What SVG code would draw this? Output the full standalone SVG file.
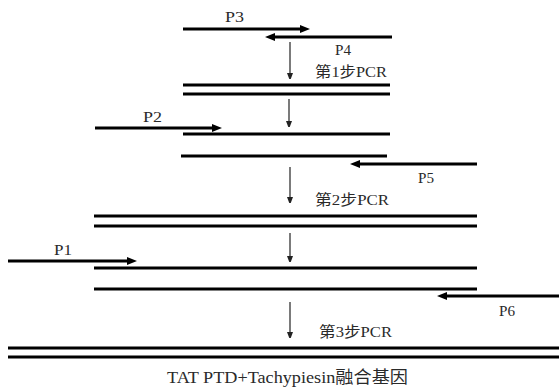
<svg xmlns="http://www.w3.org/2000/svg" width="559" height="387" viewBox="0 0 559 387">
<defs>
<style>
.strand{stroke:#000;stroke-width:3;fill:none}
.primer{stroke:#000;stroke-width:3;fill:none;marker-end:url(#ph)}
.step{stroke:#222;stroke-width:1.2;fill:none;marker-end:url(#sh)}
.lbl{font-size:15px;fill:#2a2a2a}
.cap{font-size:17px;fill:#2a2a2a}
</style>
<marker id="ph" viewBox="0 0 10 8" markerWidth="10" markerHeight="8" refX="0" refY="4" orient="auto" markerUnits="userSpaceOnUse">
<path d="M0,0 L10,4 L0,8 z" fill="#000"/>
</marker>
<marker id="sh" viewBox="0 0 6 8" markerWidth="6" markerHeight="8" refX="0" refY="3" orient="auto" markerUnits="userSpaceOnUse">
<path d="M0,0 L8,3 L0,6 z" fill="#222"/>
</marker>
</defs>
<rect width="559" height="387" fill="#fff"/>
<g id="strands">
<line class="strand" x1="183" y1="85" x2="390" y2="85"/>
<line class="strand" x1="183" y1="94" x2="390" y2="94"/>
<line class="strand" x1="183" y1="134" x2="390" y2="134"/>
<line class="strand" x1="181" y1="156" x2="387" y2="156"/>
<line class="strand" x1="94" y1="216" x2="477" y2="216"/>
<line class="strand" x1="94" y1="226" x2="477" y2="226"/>
<line class="strand" x1="94" y1="268" x2="477" y2="268"/>
<line class="strand" x1="94" y1="289" x2="477" y2="289"/>
<line class="strand" x1="8" y1="348" x2="559" y2="348"/>
<line class="strand" x1="8" y1="357" x2="559" y2="357"/>
</g>
<g id="connectors">
<line class="primer" x1="183" y1="29" x2="300" y2="29"/>
<line class="primer" x1="392" y1="37" x2="275" y2="37"/>
<line class="primer" x1="95" y1="128" x2="212" y2="128"/>
<line class="primer" x1="477" y1="164" x2="360" y2="164"/>
<line class="primer" x1="8" y1="261" x2="127" y2="261"/>
<line class="primer" x1="559" y1="296" x2="447" y2="296"/>
<line class="step" x1="290" y1="42" x2="290" y2="73"/>
<line class="step" x1="289" y1="99" x2="289" y2="121"/>
<line class="step" x1="290" y1="167" x2="290" y2="197"/>
<line class="step" x1="290" y1="233" x2="290" y2="256"/>
<line class="step" x1="290" y1="302" x2="290" y2="332"/>
</g>
<g id="labels" font-family="'Liberation Serif', 'DejaVu Serif', 'Noto Sans CJK SC', serif">
<text class="lbl" x="225" y="22" textLength="19" lengthAdjust="spacingAndGlyphs">P3</text>
<text class="lbl" x="335" y="55" textLength="16" lengthAdjust="spacingAndGlyphs">P4</text>
<text class="lbl" x="315" y="77" textLength="72" lengthAdjust="spacingAndGlyphs">第1步PCR</text>
<text class="lbl" x="143" y="122" textLength="19" lengthAdjust="spacingAndGlyphs">P2</text>
<text class="lbl" x="418" y="183" textLength="16" lengthAdjust="spacingAndGlyphs">P5</text>
<text class="lbl" x="315" y="205" textLength="74" lengthAdjust="spacingAndGlyphs">第2步PCR</text>
<text class="lbl" x="54" y="255" textLength="18" lengthAdjust="spacingAndGlyphs">P1</text>
<text class="lbl" x="499" y="316" textLength="16" lengthAdjust="spacingAndGlyphs">P6</text>
<text class="lbl" x="319" y="337" textLength="73" lengthAdjust="spacingAndGlyphs">第3步PCR</text>
<text class="cap" x="167" y="383" textLength="241" lengthAdjust="spacingAndGlyphs">TAT PTD+Tachypiesin融合基因</text>
</g>
</svg>
